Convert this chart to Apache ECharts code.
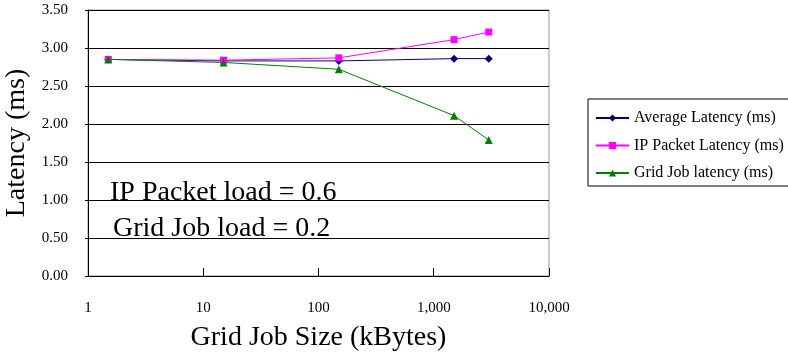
<!DOCTYPE html>
<html>
<head>
<meta charset="utf-8">
<script src="https://cdn.jsdelivr.net/npm/echarts@6/dist/echarts.min.js"></script>
<style>
  html, body { margin: 0; padding: 0; background: #ffffff; }
  #chart { width: 788px; height: 355px; }
</style>
</head>
<body>
<div id="chart"></div>
<script>
// job sizes (kBytes) on the log x axis
const jobSizes = [1.5, 15, 150, 1500, 3000]
const avgLatency = [2.85, 2.83, 2.83, 2.86, 2.86]
const ipLatency = [2.85, 2.84, 2.87, 3.11, 3.21]
const gridLatency = [2.85, 2.81, 2.72, 2.11, 1.79]
const seriesNames = ['Average Latency (ms)', 'IP Packet Latency (ms)', 'Grid Job latency (ms)']
const notes = ['IP Packet load = 0.6', 'Grid Job load = 0.2']

const serif = 'Liberation Serif'
const toPairs = (ys) => jobSizes.map((x, i) => [x, ys[i]])

const chart = echarts.init(document.getElementById('chart'))
chart.setOption({
  animation: false,
  textStyle: { fontFamily: serif, color: '#000' },
  grid: {
    left: 88,
    right: 239,
    top: 10,
    bottom: 79,
    containLabel: false,
    outerBoundsMode: 'none',
    show: true,
    borderColor: '#999999',
    borderWidth: 1,
  },
  xAxis: {
    type: 'log',
    logBase: 10,
    min: 1,
    max: 10000,
    name: 'Grid Job Size (kBytes)',
    nameLocation: 'middle',
    nameGap: 48,
    nameTextStyle: { fontFamily: serif, fontSize: 28, color: '#000' },
    axisLine: { show: true, lineStyle: { color: '#000', width: 1 } },
    axisTick: { show: true, inside: true, length: 8, lineStyle: { color: '#000' } },
    minorTick: { show: false },
    splitLine: { show: false },
    axisLabel: {
      margin: 25,
      fontFamily: serif,
      fontSize: 15,
      color: '#000',
      formatter: (v) => Number(v).toLocaleString('en-US'),
    },
  },
  yAxis: {
    type: 'value',
    min: 0,
    max: 3.5,
    interval: 0.5,
    name: 'Latency (ms)',
    nameLocation: 'middle',
    nameGap: 56,
    nameTextStyle: { fontFamily: serif, fontSize: 28, color: '#000' },
    axisLine: { show: true, lineStyle: { color: '#000', width: 1 } },
    axisTick: { show: true, inside: false, length: 3, lineStyle: { color: '#000' } },
    splitLine: { show: true, lineStyle: { color: '#000', width: 1 } },
    axisLabel: {
      margin: 20,
      fontFamily: serif,
      fontSize: 15,
      color: '#000',
      formatter: (v) => v.toFixed(2),
    },
  },
  legend: {
    orient: 'vertical',
    left: 588,
    top: 99,
    data: seriesNames,
    itemWidth: 33,
    itemHeight: 9,
    itemGap: 11.5,
    padding: [11, 20, 5, 7],
    borderColor: '#000',
    borderWidth: 1,
    textStyle: { fontFamily: serif, fontSize: 16, color: '#000' },
  },
  graphic: [
    {
      type: 'text',
      left: 110,
      top: 179,
      style: { text: notes[0], fontFamily: serif, fontSize: 28, fill: '#000' },
    },
    {
      type: 'text',
      left: 113,
      top: 215,
      style: { text: notes[1], fontFamily: serif, fontSize: 28, fill: '#000' },
    },
  ],
  series: [
    {
      name: seriesNames[0],
      type: 'line',
      data: toPairs(avgLatency),
      symbol: 'diamond',
      symbolSize: 8,
      lineStyle: { color: '#000080', width: 1 },
      itemStyle: { color: '#000080' },
    },
    {
      name: seriesNames[1],
      type: 'line',
      data: toPairs(ipLatency),
      symbol: 'rect',
      symbolSize: 7,
      lineStyle: { color: '#FF00FF', width: 1 },
      itemStyle: { color: '#FF00FF' },
    },
    {
      name: seriesNames[2],
      type: 'line',
      data: toPairs(gridLatency),
      symbol: 'triangle',
      symbolSize: 8,
      lineStyle: { color: '#008000', width: 1 },
      itemStyle: { color: '#008000' },
    },
  ],
})
</script>
</body>
</html>
